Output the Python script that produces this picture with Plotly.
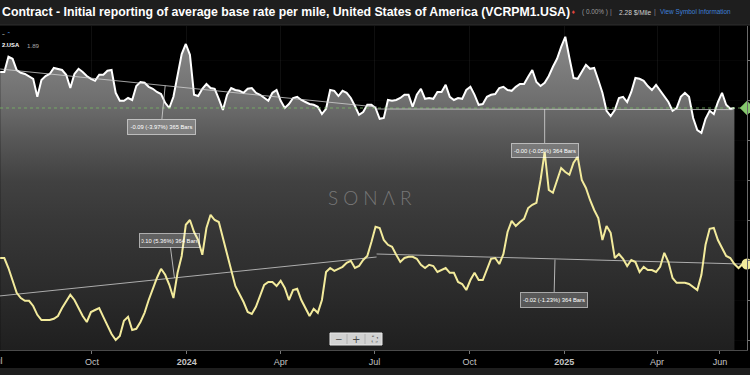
import plotly.graph_objects as go
import pandas as pd

# ---------------- data ----------------
START = "2023-07-04"
STEP = "4D"

# VCRPM1.USA  ($/mile) - white series
vcrpm1 = [
    2.370, 2.370, 2.408, 2.403, 2.375, 2.368, 2.365, 2.360, 2.353, 2.308,
    2.350, 2.360, 2.365, 2.380, 2.378, 2.375, 2.363, 2.330, 2.365, 2.378,
    2.370, 2.360, 2.353, 2.348, 2.363, 2.363, 2.373, 2.375, 2.318, 2.298,
    2.298, 2.305, 2.300, 2.335, 2.345, 2.343, 2.333, 2.328, 2.320, 2.315,
    2.293, 2.280, 2.308, 2.358, 2.415, 2.440, 2.413, 2.313, 2.310, 2.328,
    2.340, 2.330, 2.328, 2.303, 2.275, 2.313, 2.330, 2.325, 2.323, 2.318,
    2.328, 2.330, 2.318, 2.313, 2.305, 2.298, 2.318, 2.325, 2.298, 2.280,
    2.290, 2.305, 2.308, 2.300, 2.295, 2.290, 2.288, 2.283, 2.265, 2.278,
    2.325, 2.323, 2.310, 2.323, 2.318, 2.305, 2.285, 2.263, 2.270, 2.288,
    2.288, 2.280, 2.253, 2.255, 2.300, 2.298, 2.300, 2.305, 2.313, 2.313,
    2.283, 2.313, 2.328, 2.303, 2.305, 2.303, 2.320, 2.320, 2.338, 2.308,
    2.300, 2.305, 2.303, 2.325, 2.333, 2.313, 2.288, 2.290, 2.308, 2.313,
    2.315, 2.330, 2.333, 2.325, 2.323, 2.333, 2.340, 2.340, 2.358, 2.375,
    2.345, 2.335, 2.343, 2.360, 2.383, 2.403, 2.433, 2.458, 2.405, 2.355,
    2.353, 2.370, 2.388, 2.378, 2.380, 2.350, 2.318, 2.273, 2.260, 2.275,
    2.305, 2.308, 2.295, 2.320, 2.355, 2.353, 2.348, 2.335, 2.325, 2.338,
    2.323, 2.310, 2.295, 2.273, 2.280, 2.308, 2.318, 2.308, 2.255, 2.225,
    2.218, 2.253, 2.273, 2.265, 2.295, 2.318, 2.288, 2.278, 2.280,
]

# ...2.USA ($/mile) - yellow series
series2 = [
    1.905, 1.905, 1.880, 1.850, 1.818, 1.805, 1.798, 1.798, 1.785, 1.763,
    1.750, 1.750, 1.750, 1.753, 1.760, 1.780, 1.798, 1.813, 1.800, 1.778,
    1.760, 1.745, 1.770, 1.775, 1.780, 1.758, 1.738, 1.715, 1.700, 1.710,
    1.748, 1.758, 1.725, 1.728, 1.745, 1.768, 1.800, 1.828, 1.855, 1.878,
    1.863, 1.838, 1.805, 1.868, 1.910, 1.988, 2.000, 1.970, 1.950, 1.913,
    1.980, 2.013, 2.000, 1.995, 1.955, 1.913, 1.870, 1.835, 1.815, 1.795,
    1.770, 1.765, 1.783, 1.813, 1.838, 1.845, 1.845, 1.835, 1.848, 1.830,
    1.800, 1.825, 1.828, 1.800, 1.780, 1.760, 1.778, 1.768, 1.800, 1.870,
    1.880, 1.873, 1.878, 1.883, 1.893, 1.898, 1.880, 1.885, 1.900, 1.910,
    1.945, 1.983, 1.980, 1.950, 1.938, 1.933, 1.913, 1.895, 1.905, 1.908,
    1.908, 1.903, 1.888, 1.880, 1.888, 1.885, 1.870, 1.875, 1.880, 1.868,
    1.868, 1.845, 1.840, 1.825, 1.850, 1.868, 1.850, 1.850, 1.875, 1.903,
    1.905, 1.890, 1.915, 1.970, 1.998, 1.985, 1.995, 2.003, 2.030, 2.038,
    2.043, 2.100, 2.170, 2.075, 2.068, 2.100, 2.130, 2.120, 2.113, 2.143,
    2.158, 2.100, 2.080, 2.050, 2.025, 2.005, 1.950, 1.985, 1.968, 1.905,
    1.915, 1.903, 1.885, 1.900, 1.895, 1.870, 1.883, 1.875, 1.875, 1.870,
    1.883, 1.918, 1.895, 1.855, 1.843, 1.843, 1.843, 1.840, 1.833, 1.825,
    1.863, 1.938, 1.978, 1.980, 1.950, 1.930, 1.910, 1.905, 1.890, 1.880, 1.890,
]

# trend segments (start/end dates and values)
trend_white_1 = (["2023-07-04", "2024-07-03"], [2.3775, 2.2825])
trend_white_2 = (["2024-07-03", "2025-06-13"], [2.2775, 2.2760])
trend_yel_1 = (["2023-07-03", "2024-07-03"], [1.8100, 1.9075])
trend_yel_2 = (["2024-07-03", "2025-06-22"], [1.9150, 1.8900])

trend_labels = ["-0.09 (-3.97%) 365 Bars", "-0.00 (-0.05%) 364 Bars",
                "0.10 (5.36%) 364 Bars", "-0.02 (-1.23%) 364 Bars"]
label_anchor_dates = ["2023-12-11", "2024-12-13", "2023-12-20", "2024-12-23"]
label_anchor_vals = [2.336, 2.2775, 1.855, 1.901]

tick_dates = ["2023-10-01", "2024-01-01", "2024-04-01", "2024-07-01",
              "2024-10-01", "2025-01-01", "2025-04-01", "2025-06-01"]
tick_text = ["Oct", "<b>2024</b>", "Apr", "Jul", "Oct", "<b>2025</b>", "Apr", "Jun"]

last_white = vcrpm1[-1]
last_yellow = series2[-1]

X_RANGE = ["2023-07-03 19:30", "2025-06-27 05:00"]
Y_RANGE = [1.675, 2.485]

# ---------------- figure ----------------
W, H = 750, 375
ML, MR, MT, MB = 0, 3, 26, 25
PW, PH = W - ML - MR, H - MT - MB


def px(x):
    return x / PW


def py(y):
    return (H - MB - y) / PH


dates_w = pd.date_range(START, periods=len(vcrpm1), freq=STEP)
dates_y = pd.date_range(START, periods=len(series2), freq=STEP)

fig = go.Figure()

fig.add_trace(go.Scatter(
    x=dates_w, y=vcrpm1, mode="lines",
    line=dict(color="#ffffff", width=2),
    fill="tozeroy",
    fillgradient=dict(
        type="vertical", start=Y_RANGE[0], stop=Y_RANGE[1],
        colorscale=[[0.0, "#1f1f1f"], [0.15, "#292929"], [0.28, "#313131"],
                    [0.40, "#383838"], [0.52, "#414141"], [0.65, "#575757"],
                    [0.77, "#6f6f6f"], [0.90, "#808080"], [1.0, "#888888"]]),
    showlegend=False, hoverinfo="skip"))

# last-value dashed line for the white series
fig.add_trace(go.Scatter(
    x=X_RANGE, y=[last_white, last_white], mode="lines",
    line=dict(color="rgba(120,190,100,0.75)", width=1, dash="3px,3px"),
    showlegend=False, hoverinfo="skip"))

for d, v in (trend_white_1, trend_white_2, trend_yel_1, trend_yel_2):
    fig.add_trace(go.Scatter(
        x=d, y=v, mode="lines",
        line=dict(color="rgba(215,215,215,0.75)", width=1),
        showlegend=False, hoverinfo="skip"))

fig.add_trace(go.Scatter(
    x=dates_y, y=series2, mode="lines",
    line=dict(color="#f3eb9c", width=2),
    showlegend=False, hoverinfo="skip"))

# last value tags on the right axis
fig.add_trace(go.Scatter(
    x=[X_RANGE[1]], y=[last_white], mode="markers",
    marker=dict(symbol="diamond", size=11, color="#86c86e"),
    cliponaxis=False, showlegend=False, hoverinfo="skip"))
fig.add_trace(go.Scatter(
    x=[X_RANGE[1]], y=[last_yellow], mode="markers",
    marker=dict(symbol="circle", size=11, color="#f3eb9c"),
    cliponaxis=False, showlegend=False, hoverinfo="skip"))

annotations = []

# trend labels
offsets = [(-4, 41), (0, 41), (-5, -38), (-1, 40)]
sizes = [(64, 11), (63, 10), (56, 10), (63, 11)]
for t, d, v, (ax, ay), (w, h) in zip(trend_labels, label_anchor_dates,
                                      label_anchor_vals, offsets, sizes):
    annotations.append(dict(
        x=d, y=v, xref="x", yref="y", text=t, showarrow=True,
        arrowhead=0, arrowwidth=1, arrowcolor="rgba(215,215,215,0.8)",
        ax=ax, ay=ay, width=w, height=h, borderpad=1.5,
        bgcolor="rgba(255,255,255,0.22)", bordercolor="rgba(255,255,255,0.55)",
        borderwidth=1,
        font=dict(family="Liberation Sans", size=5.8, color="#ffffff")))

# title bar texts
annotations += [
    dict(x=px(0), y=py(12.5), xref="paper", yref="paper", xanchor="left",
         yanchor="middle", showarrow=False,
         text="<b>Contract - Initial reporting of average base rate per mile, "
              "United States of America (VCRPM1.USA)</b>",
         font=dict(family="Liberation Sans", size=12.3, color="#ffffff")),
    dict(x=px(573), y=py(12.5), xref="paper", yref="paper", xanchor="center",
         yanchor="middle", showarrow=False, text="♦",
         font=dict(family="DejaVu Sans", size=5, color="#e0463f")),
    dict(x=px(580), y=py(12.5), xref="paper", yref="paper", xanchor="left",
         yanchor="middle", showarrow=False, text="( 0.00% )",
         font=dict(family="Liberation Sans", size=6.4, color="#9c9c9c")),
    dict(x=px(611), y=py(12.5), xref="paper", yref="paper", xanchor="center",
         yanchor="middle", showarrow=False, text="|",
         font=dict(family="Liberation Sans", size=7, color="#8a8a8a")),
    dict(x=px(617), y=py(12.5), xref="paper", yref="paper", xanchor="left",
         yanchor="middle", showarrow=False, text="2.28 $/Mile",
         font=dict(family="Liberation Sans", size=6.6, color="#d0d0d0")),
    dict(x=px(655), y=py(12.5), xref="paper", yref="paper", xanchor="center",
         yanchor="middle", showarrow=False, text="|",
         font=dict(family="Liberation Sans", size=7, color="#8a8a8a")),
    dict(x=px(658), y=py(12.5), xref="paper", yref="paper", xanchor="left",
         yanchor="middle", showarrow=False, text="View Symbol Information",
         font=dict(family="Liberation Sans", size=6.4, color="#3f80d8")),
]

# legend at top-left
annotations += [
    dict(x=px(0), y=py(34), xref="paper", yref="paper", xanchor="left",
         yanchor="middle", showarrow=False,
         text="– <span style='color:#4a8fe0'>⌃</span>",
         font=dict(family="DejaVu Sans", size=5.5, color="#ffffff")),
    dict(x=px(-0.5), y=py(45), xref="paper", yref="paper", xanchor="left",
         yanchor="middle", showarrow=False, text="<b>2.USA</b>",
         font=dict(family="Liberation Sans", size=5.8, color="#ffffff")),
    dict(x=px(25), y=py(45), xref="paper", yref="paper", xanchor="left",
         yanchor="middle", showarrow=False, text="1.89",
         font=dict(family="Liberation Sans", size=6.2, color="#a8a8a8")),
]

# watermark
annotations.append(dict(
    x=px(372), y=py(197.5), xref="paper", yref="paper", xanchor="center",
    yanchor="middle", showarrow=False,
    text="<span style='letter-spacing:5px'>SONΛR</span>",
    font=dict(family="Lato", size=19, color="#777777", weight=300)))

# partial "Jul" label at the left edge
annotations.append(dict(
    x=px(-3), y=py(361), xref="paper", yref="paper", xanchor="center",
    yanchor="middle", showarrow=False, text="Jul",
    font=dict(family="Liberation Sans", size=9, color="#c4c4c4")))

# zoom control glyphs
for gx, g, s in ((338.5, "−", 9), (356, "+", 10), (374.5, "⛶", 8)):
    annotations.append(dict(
        x=px(gx), y=py(339), xref="paper", yref="paper", xanchor="center",
        yanchor="middle", showarrow=False, text=g,
        font=dict(family="DejaVu Sans", size=s, color="#4a4a4a")))

shapes = [
    # title bar
    dict(type="rect", xref="paper", yref="paper", x0=-0.01, x1=1.01,
         y0=py(25), y1=py(-2), fillcolor="#1e1e1e", line_width=0, layer="below"),
    dict(type="line", xref="paper", yref="paper", x0=-0.01, x1=1.01,
         y0=py(25), y1=py(25), line=dict(color="#2f2f2f", width=1)),
    # bottom strip
    dict(type="rect", xref="paper", yref="paper", x0=-0.01, x1=1.01,
         y0=py(368), y1=py(377), fillcolor="#1e1e1e", line_width=0, layer="below"),
    # zoom control box
    dict(type="rect", xref="paper", yref="paper", x0=px(330), x1=px(382),
         y0=py(345), y1=py(333), fillcolor="#d2d2d2",
         line=dict(color="#e8e8e8", width=1)),
    dict(type="line", xref="paper", yref="paper", x0=px(347), x1=px(347),
         y0=py(344), y1=py(334), line=dict(color="#b0b0b0", width=1)),
    dict(type="line", xref="paper", yref="paper", x0=px(365), x1=px(365),
         y0=py(344), y1=py(334), line=dict(color="#b0b0b0", width=1)),
]

fig.update_layout(
    width=W, height=H,
    margin=dict(l=ML, r=MR, t=MT, b=MB, pad=0, autoexpand=False),
    paper_bgcolor="#000000", plot_bgcolor="#000000",
    showlegend=False,
    annotations=annotations, shapes=shapes,
    xaxis=dict(
        type="date", range=X_RANGE, tickvals=tick_dates, ticktext=tick_text,
        ticks="outside", ticklen=3, tickcolor="#777777", automargin=False,
        showline=True, linecolor="#4a4a4a", linewidth=1,
        showgrid=True, gridcolor="rgba(255,255,255,0.06)", gridwidth=1,
        zeroline=False,
        tickfont=dict(family="Liberation Sans", size=9, color="#c4c4c4"),
        fixedrange=True),
    yaxis=dict(
        range=Y_RANGE, side="right", tick0=1.7, dtick=0.1, automargin=False,
        ticks="outside", ticklen=3, tickcolor="#777777",
        showticklabels=False, showline=True, linecolor="#6a6a6a", linewidth=1,
        showgrid=True, gridcolor="rgba(255,255,255,0.025)",
        zeroline=False, fixedrange=True),
)

fig.write_html(
    "out.html",
    config={"displayModeBar": False},
    post_script="document.body.style.margin='0px';"
                "document.body.style.overflow='hidden';",
)
